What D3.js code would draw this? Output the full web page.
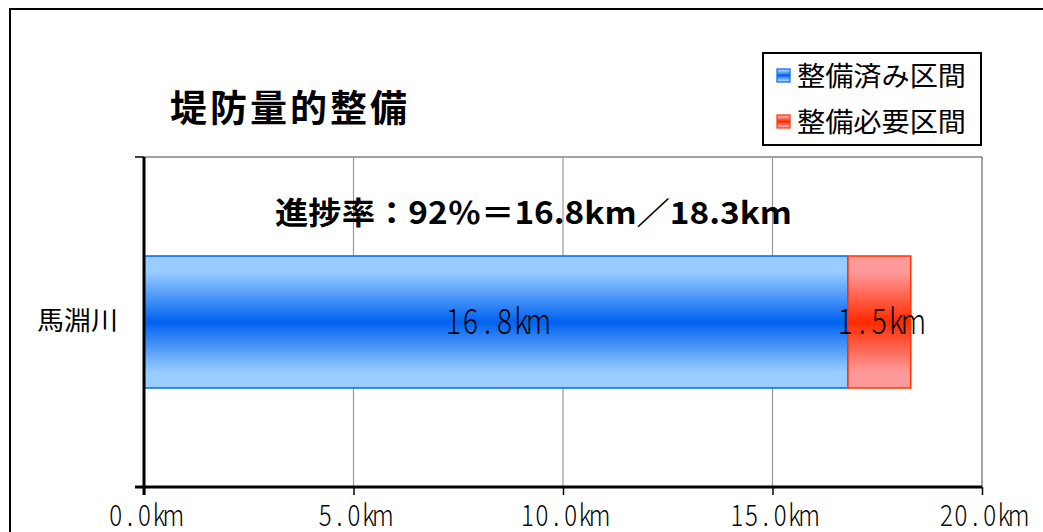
<!DOCTYPE html>
<html><head><meta charset="utf-8">
<script src="https://cdn.jsdelivr.net/npm/d3@7"></script>
<style>html,body{margin:0;padding:0;background:#fff;overflow:hidden}</style>
</head><body>
<svg id="c" width="1043" height="532"></svg>
<script>
const categories = ["馬淵川"];
const seriesNames = ["整備済み区間", "整備必要区間"];
const doneKm = [16.8];
const neededKm = [1.5];
const xTicks = [0, 5, 10, 15, 20];
const titleText = "堤防量的整備";
const subtitleText = "進捗率：92％＝16.8km／18.3km";

const svg = d3.select("#c");
const jp = "'Noto Sans CJK JP','Noto Sans',sans-serif";

const defs = svg.append("defs");
function grad(id, edge, mid) {
  const g = defs.append("linearGradient").attr("id", id).attr("x1", 0).attr("y1", 0).attr("x2", 0).attr("y2", 1);
  g.append("stop").attr("offset", "0%").attr("stop-color", edge);
  g.append("stop").attr("offset", "12%").attr("stop-color", edge);
  g.append("stop").attr("offset", "50%").attr("stop-color", mid);
  g.append("stop").attr("offset", "88%").attr("stop-color", edge);
  g.append("stop").attr("offset", "100%").attr("stop-color", edge);
}
grad("gb", "#99ccff", "#0062f0");
grad("gr", "#ff9a9a", "#ff2a00");

// fixed-cell (gothic half-width style) text, centred on cx
function monoText(parent, str, cx, baseline, cell, fontSize, sx) {
  const chars = Array.from(str);
  const g = parent.append("g").attr("transform", `translate(${cx},${baseline})`);
  const t = g.append("text").attr("font-family", jp).attr("font-size", fontSize).attr("font-weight", 300)
    .attr("fill", "#000").attr("text-anchor", "middle");
  const w = chars.length * cell;
  t.selectAll("tspan").data(chars).join("tspan")
    .attr("x", (c, k) => (-w / 2 + (k + 0.5) * cell) / sx).attr("y", 0).text(c => c);
  t.attr("transform", `scale(${sx},1)`);
  return g;
}

// outer frame
svg.append("rect").attr("x", 10).attr("y", 9).attr("width", 1060).attr("height", 560)
  .attr("fill", "none").attr("stroke", "#000").attr("stroke-width", 2);

const L = 144, R = 982, T = 157, B = 487;
const x = d3.scaleLinear().domain([0, 20]).range([L, R]);
const y = d3.scaleBand().domain(categories).range([T, B]).paddingInner(0).paddingOuter(0);
const barH = 132;

// plot border (top/right thin)
svg.append("line").attr("x1", L).attr("x2", R).attr("y1", T).attr("y2", T).attr("stroke", "#444").attr("stroke-width", 1);
svg.append("line").attr("x1", R).attr("x2", R).attr("y1", T).attr("y2", B).attr("stroke", "#444").attr("stroke-width", 1);

// gridlines
svg.append("g").selectAll("line").data(xTicks.filter(d => d > 0 && d < 20)).join("line")
  .attr("x1", d => x(d)).attr("x2", d => x(d)).attr("y1", T).attr("y2", B)
  .attr("stroke", "#999").attr("stroke-width", 1.2);

// bars
const cy = c => y(c) + y.bandwidth() / 2;
svg.append("g").selectAll("rect").data(categories).join("rect")
  .attr("x", x(0)).attr("y", c => cy(c) - barH / 2)
  .attr("width", (c, i) => x(doneKm[i]) - x(0)).attr("height", barH)
  .attr("fill", "url(#gb)").attr("stroke", "#0066ff").attr("stroke-width", 1.5);
svg.append("g").selectAll("rect").data(categories).join("rect")
  .attr("x", (c, i) => x(doneKm[i])).attr("y", c => cy(c) - barH / 2)
  .attr("width", (c, i) => x(doneKm[i] + neededKm[i]) - x(doneKm[i])).attr("height", barH)
  .attr("fill", "url(#gr)").attr("stroke", "#ff3300").attr("stroke-width", 1.5);

// bar labels
const labels = svg.append("g");
categories.forEach((c, i) => {
  monoText(labels, doneKm[i].toFixed(1) + "km", x(doneKm[i] / 2), cy(c) + 12, 17, 35, 0.8);
  monoText(labels, neededKm[i].toFixed(1) + "km", x(doneKm[i] + neededKm[i] / 2), cy(c) + 12, 17, 35, 0.8);
});

// axes
const fmt = d => d.toFixed(1) + "km";
const xAxis = svg.append("g").attr("transform", `translate(0,${B})`)
  .call(d3.axisBottom(x).tickValues(xTicks).tickSize(8).tickFormat(fmt));
xAxis.select(".domain").remove();
xAxis.selectAll(".tick line").attr("stroke", "#000").attr("stroke-width", 1.5);
xAxis.selectAll(".tick text").remove();
xAxis.selectAll(".tick").each(function (d) {
  monoText(d3.select(this), fmt(d), 0, 39, 14.4, 30, 0.8);
});
svg.append("line").attr("x1", 135).attr("x2", R).attr("y1", B).attr("y2", B).attr("stroke", "#000").attr("stroke-width", 3);

const yAxis = svg.append("g").attr("transform", `translate(${L},0)`)
  .call(d3.axisLeft(y).tickSize(0).tickPadding(26));
yAxis.select(".domain").remove();
yAxis.selectAll("text").attr("font-family", jp).attr("font-size", 26).attr("fill", "#000")
  .attr("lengthAdjust", "spacingAndGlyphs").attr("textLength", 81);
svg.append("line").attr("x1", L).attr("x2", L).attr("y1", T).attr("y2", B + 8).attr("stroke", "#000").attr("stroke-width", 3);
svg.append("g").selectAll("line").data([T, B]).join("line")
  .attr("x1", 135).attr("x2", L).attr("y1", d => d).attr("y2", d => d).attr("stroke", "#000").attr("stroke-width", 1.5);

// title & subtitle
svg.append("text").attr("x", 170).attr("y", 122).attr("font-family", jp).attr("font-weight", "bold")
  .attr("font-size", 37).attr("textLength", 237).attr("lengthAdjust", "spacing").text(titleText);
svg.append("text").attr("x", 275).attr("y", 224).attr("font-family", jp).attr("font-weight", "bold")
  .attr("font-size", 31).attr("textLength", 517).attr("lengthAdjust", "spacingAndGlyphs").text(subtitleText);

// legend
svg.append("rect").attr("x", 763).attr("y", 53).attr("width", 218).attr("height", 92)
  .attr("fill", "#fff").attr("stroke", "#000").attr("stroke-width", 2);
const legStroke = ["#0066ff", "#ff3300"];
const lg = svg.append("g").selectAll("g").data(seriesNames).join("g")
  .attr("transform", (d, i) => `translate(777,${69 + i * 46})`);
lg.append("rect").attr("width", 13).attr("height", 13)
  .attr("fill", (d, i) => i === 0 ? "url(#gb)" : "url(#gr)")
  .attr("stroke", (d, i) => legStroke[i]).attr("stroke-width", 1.2);
lg.append("text").attr("x", 20).attr("y", 17).attr("font-family", jp).attr("font-size", 27)
  .attr("textLength", 169).attr("lengthAdjust", "spacingAndGlyphs").text(d => d);
</script>
</body></html>
